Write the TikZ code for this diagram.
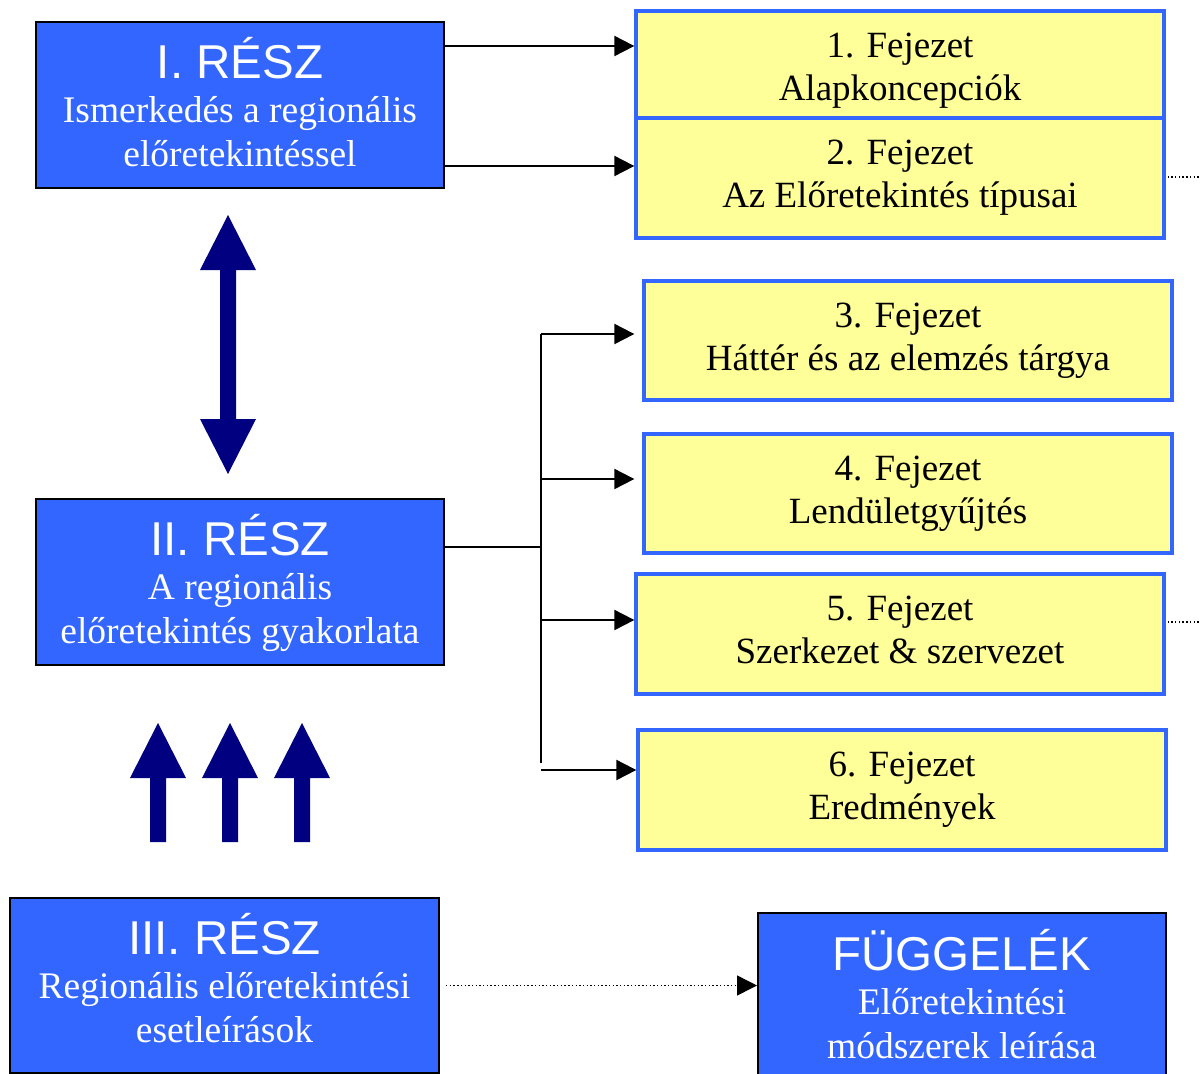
\documentclass[tikz,border=0pt]{standalone}
\usepackage{fontspec}
\setmainfont{Liberation Serif}
\newfontfamily\headfont{Liberation Sans}
\usetikzlibrary{arrows.meta}
\definecolor{partblue}{HTML}{3366FF}
\definecolor{chapyellow}{HTML}{FFFF99}
\definecolor{arrownavy}{HTML}{000080}
\newcommand\parttitle[1]{{\headfont\fontsize{47.5}{44}\selectfont #1}}

\begin{document}
\begin{tikzpicture}[x=1pt,y=-1pt,
  partbox/.style={draw=black, line width=2pt, fill=partblue, text=white,
    minimum width=408pt, minimum height=166pt, inner sep=0pt, align=center,
    font=\fontsize{37.5}{44}\selectfont, text height=123pt, text depth=0pt},
  chapbox/.style={draw=partblue, line width=3.3pt, fill=chapyellow, text=black,
    minimum width=528pt, minimum height=120pt, inner sep=0pt, align=center,
    font=\fontsize{37}{43}\selectfont, text height=58pt, text depth=0pt},
  conn/.style={line width=2pt, -{Triangle[length=20pt,width=20pt]}},
  busline/.style={line width=2pt},
  dotline/.style={line width=1.5pt, dash pattern=on 1.4pt off 2.3pt},
  uparrow/.pic={\fill[arrownavy] (0,0) -- (28,55) -- (8,55) -- (8,119)
    -- (-8,119) -- (-8,55) -- (-28,55) -- cycle;}
]
\useasboundingbox (0,0) rectangle (1200,1074);

% the three parts and the appendix
\node[partbox] (p1) at (240,105)
  {\parttitle{I. RÉSZ}\\Ismerkedés a regionális\\előretekintéssel};
\node[partbox] (p2) at (240,582)
  {\parttitle{II. RÉSZ}\\A regionális\\előretekintés gyakorlata};
\node[partbox, minimum width=429pt, minimum height=175pt, text height=114pt] (p3) at (224.5,985.5)
  {\parttitle{III. RÉSZ}\\Regionális előretekintési\\esetleírások};
\node[partbox, minimum height=167pt, text height=124pt] (app) at (962,996.5)
  {\parttitle{FÜGGELÉK}\\Előretekintési\\módszerek leírása};

% chapters
\node[chapbox, minimum height=107pt, text height=71pt] (ch1) at (900,64.5)
  {1. Fejezet\\Alapkoncepciók};
\node[chapbox] (ch2) at (900,178) {2. Fejezet\\Az Előretekintés típusai};
\node[chapbox, minimum height=119pt, text height=59pt] (ch3) at (908,340.5)
  {3. Fejezet\\Háttér és az elemzés tárgya};
\node[chapbox, minimum height=119pt, text height=59pt] (ch4) at (908,493.5)
  {4. Fejezet\\Lendületgyűjtés};
\node[chapbox] (ch5) at (900,634) {5. Fejezet\\Szerkezet \& szervezet};
\node[chapbox] (ch6) at (902,790) {6. Fejezet\\Eredmények};

% part I -> chapters 1, 2
\coordinate (t1) at ([yshift=18.5pt]ch1.west);
\coordinate (t2) at ([yshift=12pt]ch2.west);
\draw[conn] (t1 -| p1.east) -- (t1);
\draw[conn] (t2 -| p1.east) -- (t2);

% part II -> chapters 3..6 through a bus
\coordinate (bus) at ([xshift=96pt,yshift=35pt]p2.east);
\coordinate (t3) at ([yshift=6.5pt]ch3.west);
\coordinate (t4) at ([yshift=14.5pt]ch4.west);
\coordinate (t5) at ([yshift=14pt]ch5.west);
\coordinate (t6) at ([yshift=20pt]ch6.west);
\coordinate (busend) at ([yshift=7pt]bus |- t6);
\draw[busline] (p2.east |- bus) -- (bus);
\draw[busline] (bus |- t3) -- (busend);
\draw[conn] (bus |- t3) -- ([xshift=-8pt]t3);
\draw[conn] (bus |- t4) -- ([xshift=-8pt]t4);
\draw[conn] (bus |- t5) -- (t5);
\draw[conn] (bus |- t6) -- (t6);

% dotted continuations
\coordinate (d2) at ([xshift=2pt,yshift=1pt]ch2.east);
\coordinate (edge2) at ([xshift=36pt]d2);
\draw[dotline] (d2) -- (edge2);
\coordinate (d5) at ([xshift=2pt,yshift=12pt]ch5.east);
\coordinate (edge5) at ([xshift=36pt]d5);
\draw[dotline] (d5) -- (edge5);

% part III -> appendix
\coordinate (d9) at ([xshift=6pt]p3.east);
\draw[dotline, -{Triangle[length=20pt,width=20pt]}] (d9) -- (d9 -| app.west);

% block arrows
\fill[arrownavy] (228,215) -- (256,270) -- (236,270) -- (236,419) -- (256,419)
  -- (228,474) -- (200,419) -- (220,419) -- (220,270) -- (200,270) -- cycle;
\pic at (158,723) {uparrow};
\pic at (230,723) {uparrow};
\pic at (302,723) {uparrow};
\end{tikzpicture}
\end{document}
